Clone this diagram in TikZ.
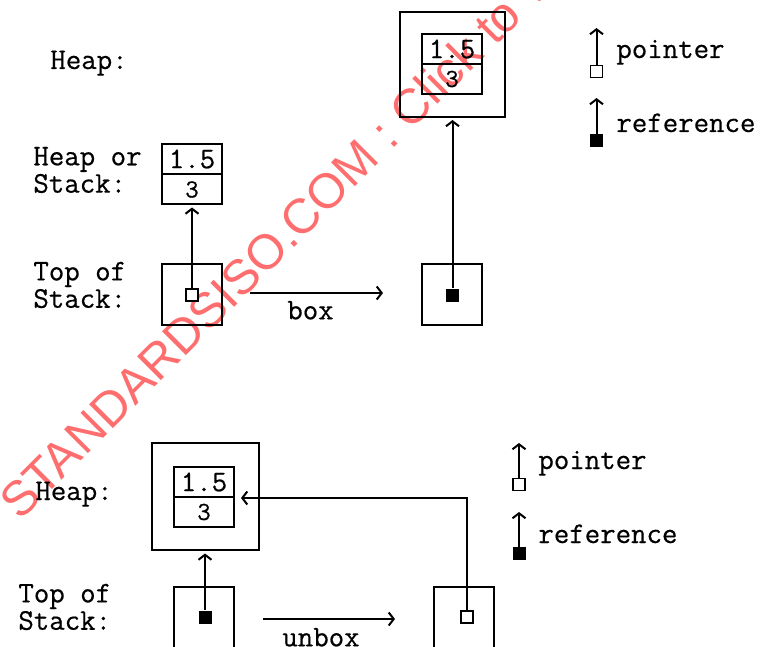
\documentclass[tikz,border=0pt]{standalone}
\usepackage{fontspec}
\usepackage{xcolor}
\usepackage{tikz}
\usetikzlibrary{arrows.meta}
\newfontfamily\wmfont{Liberation Sans}
\newfontfamily\mono[FakeBold=0.5]{Latin Modern Mono}
\definecolor{wmred}{RGB}{255,110,110}
\tikzset{
  lbl/.style={font=\mono\fontsize{15}{12.5}\selectfont, align=left, inner sep=0pt},
  cell/.style={draw, line width=1pt, minimum width=30pt, minimum height=15pt, inner sep=0pt,
               font=\mono\fontsize{15}{15}\selectfont},
  cellsm/.style={cell, font=\mono\fontsize{13}{13}\selectfont},
  stk/.style={draw, line width=1pt, minimum width=30pt, minimum height=30.5pt, inner sep=0pt},
  heapb/.style={line width=1pt, minimum size=52.5pt, inner sep=0pt},
  ptr/.style={draw, line width=0.9pt, fill=white, minimum size=6pt, inner sep=0pt},
  refb/.style={fill=black, minimum size=6.5pt, inner sep=0pt},
  link/.style={-{Straight Barb[length=2.5pt,width=6.5pt]}, line width=1pt},
}
\begin{document}
\begin{tikzpicture}[x=0.5pt, y=-0.5pt]
  \useasboundingbox (0,0) rectangle (761,647);
  \clip (0,0) rectangle (761,647);

  % watermark, behind the drawing
  \node[anchor=base west, rotate=45, inner sep=0pt, text=wmred,
        font=\wmfont\fontsize{24.5}{24.5}\selectfont] (wmark) at (20,522)
        {STANDARDSISO.COM : Click to view the full PDF};

  % --- box ---
  \node[lbl, anchor=base west] (hpA)  at (50,69)  {Heap:};
  \node[lbl, anchor=west]      (hosA) at (33,170) {Heap or\\Stack:};
  \node[lbl, anchor=west]      (tosA) at (33,285) {Top of\\Stack:};

  \node[cell]   (recAt) at (192,159)   {1.5};
  \node[cellsm] (recAb) at (192,189.5) {3};
  \node[stk]    (stkAl) at (192,294.5) {};
  \node[ptr]    (ptrA)  at (192,295)   {};
  \draw[link, shorten >=1pt] (ptrA) -- (recAb);

  \coordinate (boxS) at (250,293);
  \coordinate (boxE) at (383,293);
  \draw[link] (boxS) -- node[lbl, below=3.5pt, xshift=-3pt] {box} (boxE);

  \node[heapb, draw] (heapA) at (452.5,64.5) {};
  \node[cell]   (hrecAt) at (452,49)  {1.5};
  \node[cellsm] (hrecAb) at (452,79)  {3};
  \node[stk]    (stkAr)  at (452,294.5) {};
  \node[refb]   (refA)   at (452.5,295) {};
  \draw[link, shorten >=1pt] (refA) -- (heapA);

  \node[ptr]  (lgpA) at (596.5,71.5)  {};
  \node[refb] (lgrA) at (596.5,140.5) {};
  \coordinate (lgpAt) at (596.5,28);
  \coordinate (lgrAt) at (596.5,98);
  \draw[link] (lgpA) -- (lgpAt);
  \draw[link] (lgrA) -- (lgrAt);
  \node[lbl, anchor=base west] (ptxA) at (616,58)  {pointer};
  \node[lbl, anchor=base west] (rtxA) at (616,132) {reference};

  % --- unbox ---
  \node[lbl, anchor=base west] (hpB)  at (35,500) {Heap:};
  \node[lbl, anchor=west]      (tosB) at (18,607) {Top of\\Stack:};

  \node[heapb] (heapB) at (205,496) {};
  \draw[line width=1pt] ([yshift=-14.5]heapB.east) |- (heapB.north west)
        |- (heapB.south east) -- ([yshift=14.5]heapB.east);
  \node[cell]   (hrecBt) at (204,482) {1.5};
  \node[cellsm] (hrecBb) at (204,512) {3};
  \node[stk]    (stkBl)  at (204,617.5) {};
  \node[refb]   (refB)   at (205,617) {};
  \draw[link, shorten >=2pt] (refB) -- (heapB);

  \node[stk] (stkBr) at (464,617.5) {};
  \node[ptr] (ptrB)  at (467,617)   {};
  \draw[link, shorten >=3pt] (ptrB) |- (hrecBt.south east);

  \coordinate (ubxS) at (263,619);
  \coordinate (ubxE) at (395,619);
  \draw[link] (ubxS) -- node[lbl, below=4pt, xshift=-4pt] {unbox} (ubxE);

  \node[ptr]  (lgpB) at (519,484.5) {};
  \node[refb] (lgrB) at (519,553.5) {};
  \coordinate (lgpBt) at (519,443);
  \coordinate (lgrBt) at (519,512);
  \draw[link] (lgpB) -- (lgpBt);
  \draw[link] (lgrB) -- (lgrBt);
  \node[lbl, anchor=base west] (ptxB) at (538,469) {pointer};
  \node[lbl, anchor=base west] (rtxB) at (538,543) {reference};
\end{tikzpicture}
\end{document}
